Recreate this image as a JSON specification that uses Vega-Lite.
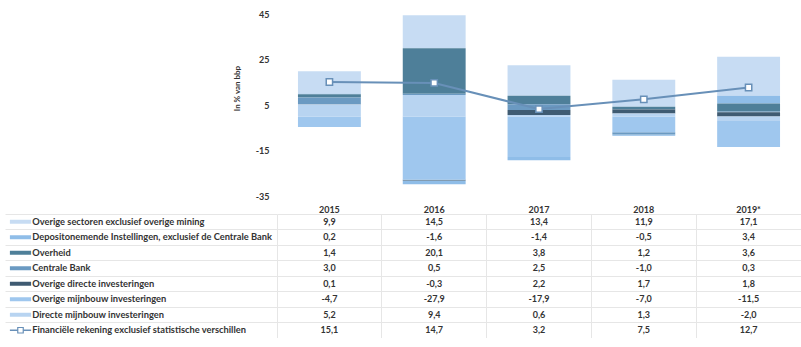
{
  "$schema": "https://vega.github.io/schema/vega-lite/v6.json",
  "padding": {"left": 5, "top": 10, "right": 0, "bottom": 0},
  "autosize": {"type": "pad"},
  "background": "white",
  "config": {
    "locale": {"number": {"decimal": ",", "thousands": ".", "grouping": [3], "currency": ["€", ""], "minus": "-"}},
    "view": {"stroke": null},
    "font": "Lato"
  },
  "datasets": {
    "seriesOrder": [
      {"series": "Directe mijnbouw investeringen", "n": 1},
      {"series": "Overige mijnbouw investeringen", "n": 2},
      {"series": "Overige directe investeringen", "n": 3},
      {"series": "Centrale Bank", "n": 4},
      {"series": "Overheid", "n": 5},
      {"series": "Depositonemende Instellingen, exclusief de Centrale Bank", "n": 6},
      {"series": "Overige sectoren exclusief overige mining", "n": 7}
    ],
    "d": [
      {"year": "2015", "series": "Overige sectoren exclusief overige mining", "value": 9.9},
      {"year": "2016", "series": "Overige sectoren exclusief overige mining", "value": 14.5},
      {"year": "2017", "series": "Overige sectoren exclusief overige mining", "value": 13.4},
      {"year": "2018", "series": "Overige sectoren exclusief overige mining", "value": 11.9},
      {"year": "2019*", "series": "Overige sectoren exclusief overige mining", "value": 17.1},
      {"year": "2015", "series": "Depositonemende Instellingen, exclusief de Centrale Bank", "value": 0.2},
      {"year": "2016", "series": "Depositonemende Instellingen, exclusief de Centrale Bank", "value": -1.6},
      {"year": "2017", "series": "Depositonemende Instellingen, exclusief de Centrale Bank", "value": -1.4},
      {"year": "2018", "series": "Depositonemende Instellingen, exclusief de Centrale Bank", "value": -0.5},
      {"year": "2019*", "series": "Depositonemende Instellingen, exclusief de Centrale Bank", "value": 3.4},
      {"year": "2015", "series": "Overheid", "value": 1.4},
      {"year": "2016", "series": "Overheid", "value": 20.1},
      {"year": "2017", "series": "Overheid", "value": 3.8},
      {"year": "2018", "series": "Overheid", "value": 1.2},
      {"year": "2019*", "series": "Overheid", "value": 3.6},
      {"year": "2015", "series": "Centrale Bank", "value": 3.0},
      {"year": "2016", "series": "Centrale Bank", "value": 0.5},
      {"year": "2017", "series": "Centrale Bank", "value": 2.5},
      {"year": "2018", "series": "Centrale Bank", "value": -1.0},
      {"year": "2019*", "series": "Centrale Bank", "value": 0.3},
      {"year": "2015", "series": "Overige directe investeringen", "value": 0.1},
      {"year": "2016", "series": "Overige directe investeringen", "value": -0.3},
      {"year": "2017", "series": "Overige directe investeringen", "value": 2.2},
      {"year": "2018", "series": "Overige directe investeringen", "value": 1.7},
      {"year": "2019*", "series": "Overige directe investeringen", "value": 1.8},
      {"year": "2015", "series": "Overige mijnbouw investeringen", "value": -4.7},
      {"year": "2016", "series": "Overige mijnbouw investeringen", "value": -27.9},
      {"year": "2017", "series": "Overige mijnbouw investeringen", "value": -17.9},
      {"year": "2018", "series": "Overige mijnbouw investeringen", "value": -7.0},
      {"year": "2019*", "series": "Overige mijnbouw investeringen", "value": -11.5},
      {"year": "2015", "series": "Directe mijnbouw investeringen", "value": 5.2},
      {"year": "2016", "series": "Directe mijnbouw investeringen", "value": 9.4},
      {"year": "2017", "series": "Directe mijnbouw investeringen", "value": 0.6},
      {"year": "2018", "series": "Directe mijnbouw investeringen", "value": 1.3},
      {"year": "2019*", "series": "Directe mijnbouw investeringen", "value": -2.0},
      {"year": "2015", "series": "Financiële rekening exclusief statistische verschillen", "value": 15.1},
      {"year": "2016", "series": "Financiële rekening exclusief statistische verschillen", "value": 14.7},
      {"year": "2017", "series": "Financiële rekening exclusief statistische verschillen", "value": 3.2},
      {"year": "2018", "series": "Financiële rekening exclusief statistische verschillen", "value": 7.5},
      {"year": "2019*", "series": "Financiële rekening exclusief statistische verschillen", "value": 12.7}
    ]
  },
  "columns": 2,
  "spacing": {"row": 18, "column": 0},
  "bounds": "flush",
  "align": "each",
  "resolve": {"scale": {"x": "independent", "y": "independent"}},
  "concat": [
    {
      "width": 272,
      "height": 182,
      "data": {"values": []},
      "mark": "text",
      "encoding": {}
    },
    {
      "width": 524,
      "height": 182,
      "data": {"name": "d"},
      "layer": [
        {
          "transform": [
            {"filter": "datum.series != 'Financiële rekening exclusief statistische verschillen'"},
            {"lookup": "series", "from": {"data": {"name": "seriesOrder"}, "key": "series", "fields": ["n"]}}
          ],
          "mark": {"type": "bar"},
          "encoding": {
            "x": {"field": "year", "type": "nominal", "scale": {"type": "band", "paddingInner": 0.4, "paddingOuter": 0.2}, "axis": null},
            "y": {
              "field": "value", "type": "quantitative", "stack": "zero",
              "scale": {"domain": [-35, 45], "nice": false, "zero": false},
              "axis": {
                "values": [45, 25, 5, -15, -35], "title": "In % van bbp", "domain": false, "ticks": false, "grid": false,
                "labelPadding": 8, "labelFontSize": 9, "labelFontWeight": "bold", "labelColor": "#333333",
                "labelFlush": false, "labelOverlap": false,
                "titleFontSize": 8, "titleFontWeight": "bold", "titleColor": "#333333", "titlePadding": 14, "titleY": 74
              }
            },
            "order": {"field": "n", "type": "quantitative", "sort": "ascending"},
            "color": {
              "field": "series", "type": "nominal",
              "scale": {
                "domain": [
                  "Overige sectoren exclusief overige mining",
                  "Depositonemende Instellingen, exclusief de Centrale Bank",
                  "Overheid",
                  "Centrale Bank",
                  "Overige directe investeringen",
                  "Overige mijnbouw investeringen",
                  "Directe mijnbouw investeringen"
                ],
                "range": ["#c7dcf3", "#8fbde8", "#4e7f99", "#6b9ac2", "#3f5b72", "#9fc7ee", "#b8d4f1"]
              },
              "legend": null
            }
          }
        },
        {
          "transform": [{"filter": "datum.series == 'Financiële rekening exclusief statistische verschillen'"}],
          "mark": {"type": "line", "color": "#6890b8", "strokeWidth": 2},
          "encoding": {
            "x": {"field": "year", "type": "nominal"},
            "y": {"field": "value", "type": "quantitative"}
          }
        },
        {
          "transform": [{"filter": "datum.series == 'Financiële rekening exclusief statistische verschillen'"}],
          "mark": {"type": "point", "shape": "square", "filled": true, "fill": "white", "stroke": "#6890b8", "strokeWidth": 1.5, "size": 40, "opacity": 1},
          "encoding": {
            "x": {"field": "year", "type": "nominal"},
            "y": {"field": "value", "type": "quantitative"}
          }
        }
      ]
    },
    {
      "width": 272,
      "height": 124,
      "data": {"name": "d"},
      "transform": [{"filter": "datum.year == '2015'"}],
      "encoding": {
        "y": {
          "field": "series", "type": "nominal",
          "sort": [
            "Overige sectoren exclusief overige mining",
            "Depositonemende Instellingen, exclusief de Centrale Bank",
            "Overheid",
            "Centrale Bank",
            "Overige directe investeringen",
            "Overige mijnbouw investeringen",
            "Directe mijnbouw investeringen",
            "Financiële rekening exclusief statistische verschillen"
          ],
          "scale": {"type": "band", "paddingInner": 0, "paddingOuter": 0},
          "axis": {"title": null, "labels": false, "ticks": false, "domain": false, "grid": true, "bandPosition": 0, "gridColor": "#e6e6e6"}
        }
      },
      "layer": [
        {
          "transform": [{"filter": "datum.series != 'Financiële rekening exclusief statistische verschillen'"}],
          "mark": {"type": "bar", "height": 4},
          "encoding": {
            "x": {"datum": 0.018, "type": "quantitative", "scale": {"domain": [0, 1], "nice": false, "zero": false}, "axis": null},
            "x2": {"datum": 0.096},
            "color": {"field": "series", "type": "nominal", "legend": null}
          }
        },
        {
          "transform": [{"filter": "datum.series == 'Financiële rekening exclusief statistische verschillen'"}],
          "mark": {"type": "rule", "color": "#6890b8", "strokeWidth": 1.5},
          "encoding": {
            "x": {"datum": 0.018, "type": "quantitative"},
            "x2": {"datum": 0.096}
          }
        },
        {
          "transform": [{"filter": "datum.series == 'Financiële rekening exclusief statistische verschillen'"}],
          "mark": {"type": "point", "shape": "square", "filled": true, "fill": "white", "stroke": "#6890b8", "strokeWidth": 1.2, "size": 30, "opacity": 1},
          "encoding": {
            "x": {"datum": 0.057, "type": "quantitative"}
          }
        },
        {
          "mark": {"type": "text", "align": "left", "baseline": "middle", "fontSize": 9.3, "fontWeight": "bold", "color": "#333333"},
          "encoding": {
            "x": {"datum": 0.1, "type": "quantitative"},
            "text": {"field": "series", "type": "nominal"}
          }
        }
      ]
    },
    {
      "width": 524,
      "height": 124,
      "data": {"name": "d"},
      "mark": {"type": "text", "fontSize": 9, "fontWeight": "bold", "color": "#333333", "baseline": "middle"},
      "encoding": {
        "x": {
          "field": "year", "type": "nominal",
          "scale": {"type": "band", "paddingInner": 0, "paddingOuter": 0},
          "axis": {"orient": "top", "title": null, "domain": false, "ticks": false, "labelAngle": 0, "labelPadding": 0,
                   "labelFontWeight": "bold", "labelFontSize": 9, "labelColor": "#333333",
                   "grid": true, "bandPosition": 0, "gridColor": "#e6e6e6"}
        },
        "y": {
          "field": "series", "type": "nominal",
          "sort": [
            "Overige sectoren exclusief overige mining",
            "Depositonemende Instellingen, exclusief de Centrale Bank",
            "Overheid",
            "Centrale Bank",
            "Overige directe investeringen",
            "Overige mijnbouw investeringen",
            "Directe mijnbouw investeringen",
            "Financiële rekening exclusief statistische verschillen"
          ],
          "scale": {"type": "band", "paddingInner": 0, "paddingOuter": 0},
          "axis": {"title": null, "labels": false, "ticks": false, "domain": false, "grid": true, "bandPosition": 0, "gridColor": "#e6e6e6"}
        },
        "text": {"field": "value", "type": "quantitative", "format": ".1f"}
      }
    }
  ]
}
